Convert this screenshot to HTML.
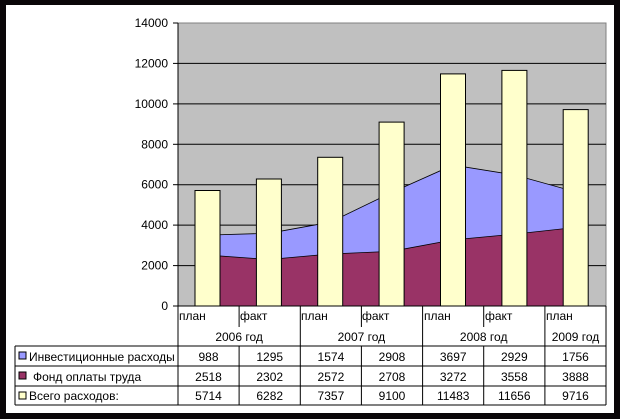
<!DOCTYPE html>
<html><head><meta charset="utf-8"><style>html,body{margin:0;padding:0;background:#fff}svg{display:block}text{font-family:"Liberation Sans",sans-serif;font-size:12px;fill:#000}</style></head><body>
<svg width="620" height="419" viewBox="0 0 620 419" xmlns="http://www.w3.org/2000/svg">
<rect x="0" y="0" width="620" height="419" fill="#0a0608"/>
<rect x="6" y="5" width="608" height="408" fill="#fff"/>
<rect x="178" y="23" width="428" height="283" fill="#c0c0c0" stroke="#808080" stroke-width="1"/>
<g stroke="#000" stroke-width="1">
<line x1="178" y1="265.6" x2="606" y2="265.6"/><line x1="178" y1="225.1" x2="606" y2="225.1"/><line x1="178" y1="184.7" x2="606" y2="184.7"/><line x1="178" y1="144.3" x2="606" y2="144.3"/><line x1="178" y1="103.9" x2="606" y2="103.9"/><line x1="178" y1="63.4" x2="606" y2="63.4"/>
</g>
<polygon points="207.5,306 207.5,235.1 268.9,233.3 330.2,222.2 391.6,192.5 453,165.1 514.4,174.9 575.7,191.9 575.7,306" fill="#9999ff" stroke="#000" stroke-width="0.8"/>
<polygon points="207.5,306 207.5,255.1 268.9,259.5 330.2,254 391.6,251.3 453,239.9 514.4,234.1 575.7,227.4 575.7,306" fill="#993366" stroke="#000" stroke-width="0.8"/>
<g fill="#ffffcc" stroke="#000" stroke-width="1">
<rect x="195" y="190.5" width="25" height="115.5"/><rect x="256.4" y="179" width="25" height="127"/><rect x="317.7" y="157.3" width="25" height="148.7"/><rect x="379.1" y="122.1" width="25" height="183.9"/><rect x="440.5" y="73.9" width="25" height="232.1"/><rect x="501.9" y="70.4" width="25" height="235.6"/><rect x="563.2" y="109.6" width="25" height="196.4"/>
</g>
<g stroke="#000" stroke-width="1">
<line x1="178" y1="23" x2="178" y2="306"/>
<line x1="173" y1="23" x2="178" y2="23"/><line x1="173" y1="63.4" x2="178" y2="63.4"/><line x1="173" y1="103.9" x2="178" y2="103.9"/><line x1="173" y1="144.3" x2="178" y2="144.3"/><line x1="173" y1="184.7" x2="178" y2="184.7"/><line x1="173" y1="225.1" x2="178" y2="225.1"/><line x1="173" y1="265.6" x2="178" y2="265.6"/><line x1="173" y1="306" x2="178" y2="306"/>
<line x1="178" y1="306" x2="606" y2="306"/>
<line x1="239.1" y1="306" x2="239.1" y2="327"/><line x1="361.4" y1="306" x2="361.4" y2="327"/><line x1="483.7" y1="306" x2="483.7" y2="327"/>
<line x1="178" y1="306" x2="178" y2="405"/><line x1="300.3" y1="306" x2="300.3" y2="405"/><line x1="422.6" y1="306" x2="422.6" y2="405"/><line x1="544.9" y1="306" x2="544.9" y2="405"/><line x1="606" y1="306" x2="606" y2="405"/>
<line x1="239.1" y1="346" x2="239.1" y2="405"/><line x1="361.4" y1="346" x2="361.4" y2="405"/><line x1="483.7" y1="346" x2="483.7" y2="405"/>
<line x1="15" y1="346" x2="606" y2="346"/><line x1="15" y1="366" x2="606" y2="366"/><line x1="15" y1="386" x2="606" y2="386"/><line x1="15" y1="405" x2="606" y2="405"/>
<line x1="15" y1="346" x2="15" y2="405"/>
</g>
<g text-anchor="end">
<text x="168" y="27">14000</text><text x="168" y="67.4">12000</text><text x="168" y="107.9">10000</text><text x="168" y="148.3">8000</text><text x="168" y="188.7">6000</text><text x="168" y="229.1">4000</text><text x="168" y="269.6">2000</text><text x="168" y="310">0</text>
</g>
<text x="179" y="320">план</text><text x="240" y="320">факт</text><text x="301" y="320">план</text><text x="362" y="320">факт</text><text x="424" y="320">план</text><text x="485" y="320">факт</text><text x="546" y="320">план</text>
<g text-anchor="middle">
<text x="239.1" y="341">2006 год</text><text x="361.4" y="341">2007 год</text><text x="483.7" y="341">2008 год</text><text x="575.5" y="341">2009 год</text>
<text x="208.5" y="361">988</text><text x="269.7" y="361">1295</text><text x="330.9" y="361">1574</text><text x="392" y="361">2908</text><text x="453.2" y="361">3697</text><text x="514.3" y="361">2929</text><text x="575.5" y="361">1756</text>
<text x="208.5" y="381">2518</text><text x="269.7" y="381">2302</text><text x="330.9" y="381">2572</text><text x="392" y="381">2708</text><text x="453.2" y="381">3272</text><text x="514.3" y="381">3558</text><text x="575.5" y="381">3888</text>
<text x="208.5" y="400">5714</text><text x="269.7" y="400">6282</text><text x="330.9" y="400">7357</text><text x="392" y="400">9100</text><text x="453.2" y="400">11483</text><text x="514.3" y="400">11656</text><text x="575.5" y="400">9716</text>
</g>
<rect x="19" y="352" width="7" height="7" fill="#9999ff" stroke="#000" stroke-width="1"/>
<rect x="19" y="372" width="7" height="7" fill="#993366" stroke="#000" stroke-width="1"/>
<rect x="19" y="392" width="7" height="7" fill="#ffffcc" stroke="#000" stroke-width="1"/>
<text x="29" y="361">Инвестиционные расходы</text>
<text x="33" y="381">Фонд оплаты труда</text>
<text x="29" y="400">Всего расходов:</text>
</svg>
</body></html>
